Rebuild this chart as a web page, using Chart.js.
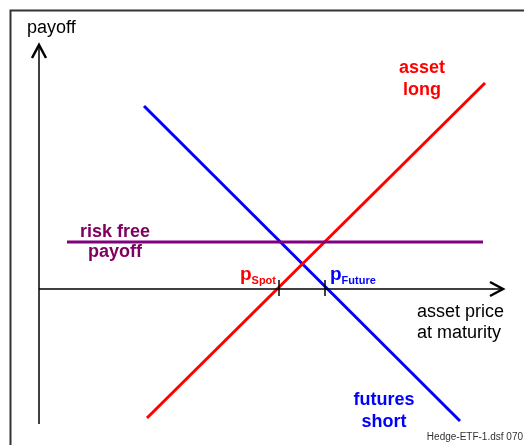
<!DOCTYPE html>
<html>
<head>
<meta charset="utf-8">
<script src="https://cdn.jsdelivr.net/npm/chart.js@4.4.1/dist/chart.umd.min.js"></script>
<style>
  html, body { margin: 0; padding: 0; background: #fff; }
  #chart { display: block; }
</style>
</head>
<body>
<canvas id="chart" width="524" height="445"></canvas>
<script>
// Payoff diagram: long asset vs. short futures = risk free payoff
// units: price / payoff, origin where the axes cross

const longPrice = [108, 446];
const longPayoff = [-129, 206];

const shortPrice = [105, 421];
const shortPayoff = [183, -132];

const riskFreePrice = [28, 444];
const riskFreePayoff = [47, 47];

const pSpot = 240;
const pFuture = 286;

const axisPrice = [0, 464];
const axisPayoff = [-135, 244];

const FONT = '"Liberation Sans", Arial, Helvetica, sans-serif';
const RED = '#ff0000';
const BLUE = '#0000ff';
const PURPLE = '#800080';
const PURPLE_TEXT = '#800060';

function pts(xs, ys) {
    return xs.map((x, i) => ({ x, y: ys[i] }));
}

function lineSet(xs, ys, color, width) {
    return {
        data: pts(xs, ys),
        showLine: true,
        borderColor: color,
        backgroundColor: color,
        borderWidth: width,
        pointRadius: 0,
        borderCapStyle: 'butt',
    };
}

function arrowHead(ctx, tx, ty, dx, dy) {
    // open chevron, pointing in direction (dx, dy)
    const len = 13, half = 7;
    ctx.beginPath();
    ctx.moveTo(tx - dx * len - dy * half, ty - dy * len + dx * half);
    ctx.lineTo(tx, ty);
    ctx.lineTo(tx - dx * len + dy * half, ty - dy * len - dx * half);
    ctx.stroke();
}

const overlay = {
    id: 'overlay',
    afterDatasetsDraw(chart) {
        const ctx = chart.ctx;
        const xs = chart.scales.x, ys = chart.scales.y;
        const X = v => xs.getPixelForValue(v);
        const Y = v => ys.getPixelForValue(v);
        ctx.save();

        // outer frame (left + top)
        ctx.strokeStyle = '#333';
        ctx.lineWidth = 2;
        ctx.beginPath();
        ctx.moveTo(10.5, 445);
        ctx.lineTo(10.5, 10.5);
        ctx.lineTo(524, 10.5);
        ctx.stroke();

        // arrow heads
        ctx.strokeStyle = '#000';
        ctx.lineWidth = 2.5;
        ctx.lineJoin = 'miter';
        arrowHead(ctx, X(0), Y(axisPayoff[1]), 0, -1);
        arrowHead(ctx, X(axisPrice[1]), Y(0), 1, 0);

        // price ticks
        ctx.lineWidth = 1.5;
        [pSpot, pFuture].forEach(p => {
            ctx.beginPath();
            ctx.moveTo(X(p), Y(0) - 9);
            ctx.lineTo(X(p), Y(0) + 7);
            ctx.stroke();
        });

        // axis titles
        ctx.fillStyle = '#000';
        ctx.font = '18px ' + FONT;
        ctx.textAlign = 'left';
        ctx.textBaseline = 'alphabetic';
        ctx.fillText('payoff', 27, 33);
        ctx.fillText('asset price', 417, 317);
        ctx.fillText('at maturity', 417, 338);

        // series labels
        ctx.font = 'bold 18px ' + FONT;
        ctx.textAlign = 'center';
        ctx.fillStyle = RED;
        ctx.fillText('asset', 422, 73);
        ctx.fillText('long', 422, 95);
        ctx.fillStyle = BLUE;
        ctx.fillText('futures', 384, 405);
        ctx.fillText('short', 384, 427);
        ctx.fillStyle = PURPLE_TEXT;
        ctx.fillText('risk free', 115, 237);
        ctx.fillText('payoff', 115, 257);

        // p_Spot (left of tick), p_Future (right of tick)
        const base = Y(0) - 9;
        ctx.textAlign = 'left';
        ctx.font = 'bold 11px ' + FONT;
        const wSpot = ctx.measureText('Spot').width;
        const xSpotSub = X(pSpot) - 3 - wSpot;
        ctx.fillStyle = RED;
        ctx.fillText('Spot', xSpotSub, base + 4);
        ctx.font = 'bold 19px ' + FONT;
        const wp = ctx.measureText('p').width;
        ctx.fillText('p', xSpotSub - wp, base);

        ctx.fillStyle = BLUE;
        const xF = X(pFuture) + 5;
        ctx.fillText('p', xF, base);
        ctx.font = 'bold 11px ' + FONT;
        ctx.fillText('Future', xF + wp, base + 4);

        // file tag
        ctx.fillStyle = '#333';
        ctx.font = '10px ' + FONT;
        ctx.textAlign = 'right';
        ctx.fillText('Hedge-ETF-1.dsf 070', 523, 440);

        ctx.restore();
    }
};

new Chart(document.getElementById('chart'), {
    type: 'scatter',
    data: {
        datasets: [
            lineSet([0, 0], axisPayoff, '#000', 1.5),
            lineSet(axisPrice, [0, 0], '#000', 1.5),
            lineSet(riskFreePrice, riskFreePayoff, PURPLE, 3),
            lineSet(longPrice, longPayoff, RED, 3),
            lineSet(shortPrice, shortPayoff, BLUE, 3),
        ],
    },
    options: {
        responsive: false,
        animation: false,
        layout: { padding: 0 },
        scales: {
            x: { type: 'linear', display: false, min: -39, max: 485 },
            y: { type: 'linear', display: false, min: -156, max: 289 },
        },
        plugins: {
            legend: { display: false },
            tooltip: { enabled: false },
        },
    },
    plugins: [overlay],
});
</script>
</body>
</html>
